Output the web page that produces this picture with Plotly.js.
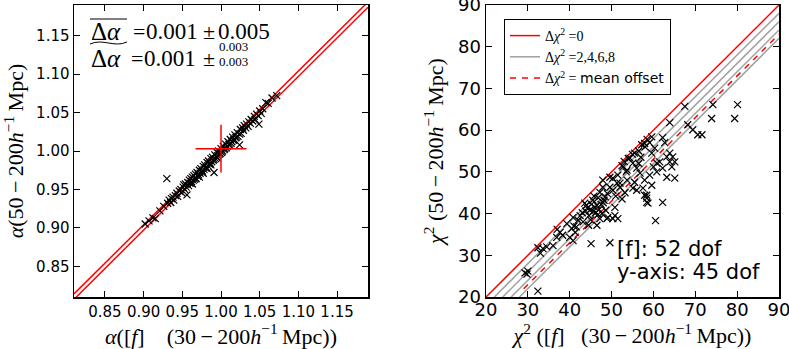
<!DOCTYPE html>
<html>
<head>
<meta charset="utf-8">
<script src="https://cdn.plot.ly/plotly-3.0.1.min.js"></script>
<style>
  html, body { margin: 0; padding: 0; background: #fff; }
  #chart { width: 789px; height: 349px; }
</style>
</head>
<body>
<div id="chart"></div>
<script>
  // Left panel: alpha from [f] fit vs alpha from the 50-200 fit
  var alphaF = [
    0.902, 0.907, 0.912, 0.915, 0.921, 0.926, 0.930, 0.931, 0.933, 0.935,
    0.936, 0.938, 0.939, 0.941, 0.943, 0.944, 0.946, 0.948, 0.949, 0.951,
    0.952, 0.953, 0.954, 0.955, 0.956, 0.957, 0.958, 0.959, 0.960, 0.961,
    0.962, 0.963, 0.963, 0.964, 0.965, 0.966, 0.967, 0.967, 0.968, 0.969,
    0.970, 0.971, 0.972, 0.972, 0.973, 0.974, 0.975, 0.976, 0.977, 0.977,
    0.978, 0.979, 0.980, 0.981, 0.982, 0.982, 0.983, 0.984, 0.985, 0.986,
    0.987, 0.987, 0.988, 0.989, 0.990, 0.991, 0.991, 0.992, 0.993, 0.994,
    0.995, 0.995, 0.996, 0.997, 0.998, 0.999, 1.000, 1.001, 1.002, 1.003,
    1.004, 1.005, 1.006, 1.007, 1.008, 1.009, 1.010, 1.011, 1.012, 1.013,
    1.014, 1.015, 1.016, 1.017, 1.018, 1.019, 1.020, 1.021, 1.022, 1.024,
    1.024, 1.025, 1.026, 1.028, 1.029, 1.030, 1.032, 1.033, 1.035, 1.036,
    1.038, 1.039, 1.041, 1.043, 1.044, 1.046, 1.048, 1.049, 1.050, 1.052,
    1.054, 1.058, 1.061, 1.066, 1.072
  ];
  var alpha50 = [
    0.905, 0.909, 0.913, 0.912, 0.922, 0.928, 0.964, 0.932, 0.936, 0.933,
    0.938, 0.940, 0.936, 0.942, 0.945, 0.941, 0.948, 0.950, 0.946, 0.953,
    0.956, 0.950, 0.957, 0.953, 0.943, 0.959, 0.955, 0.962, 0.958, 0.964,
    0.960, 0.966, 0.957, 0.962, 0.968, 0.963, 0.965, 0.970, 0.964, 0.972,
    0.967, 0.969, 0.975, 0.966, 0.971, 0.977, 0.973, 0.974, 0.980, 0.971,
    0.976, 0.982, 0.978, 0.979, 0.985, 0.977, 0.981, 0.987, 0.983, 0.984,
    0.990, 0.982, 0.986, 0.992, 0.988, 0.972, 0.989, 0.995, 0.990, 0.993,
    0.998, 0.991, 0.994, 1.000, 0.996, 0.997, 1.003, 0.998, 1.000, 1.006,
    1.002, 1.003, 1.009, 1.004, 1.006, 1.012, 1.008, 1.009, 1.015, 1.010,
    1.012, 1.018, 1.014, 1.015, 1.021, 1.017, 1.018, 1.024, 1.019, 1.008,
    1.022, 1.028, 1.023, 1.030, 1.027, 1.033, 1.030, 1.035, 1.032, 1.038,
    1.036, 1.041, 1.039, 1.045, 1.041, 1.048, 1.046, 1.035, 1.052, 1.049,
    1.055, 1.063, 1.062, 1.069, 1.072
  ];
  var alphaLineX = [0.81, 1.19];
  var alphaOffsets = [-0.003, 0.004];   // the two red reference lines
  var alphaMean = [1.000, 1.003];        // red cross: mean point
  var alphaErr = [0.033, 0.031];         // red cross: x / y half widths
  var alphaTicks = [0.85, 0.90, 0.95, 1.00, 1.05, 1.10, 1.15];

  // Right panel: chi^2 from [f] fit vs chi^2 from the 50-200 fit
  var chiF = [
    29.3, 30.0, 29.8, 32.4, 33.6, 32.4, 33.0, 34.5, 36.0, 36.9,
    37.7, 37.0, 38.3, 39.3, 40.0, 40.5, 40.8, 40.8, 41.3, 42.0,
    41.6, 43.0, 43.6, 44.2, 44.8, 45.5, 45.0, 44.5, 45.1, 46.5,
    46.5, 46.0, 46.8, 47.2, 47.2, 47.7, 47.9, 48.0, 48.5, 48.9,
    49.1, 49.6, 49.6, 50.3, 50.3, 50.3, 50.8, 51.3, 51.5, 51.5,
    51.0, 52.0, 52.0, 52.7, 52.5, 53.7, 53.7, 54.4, 53.2, 55.1,
    55.1, 55.5, 56.0, 56.0, 56.8, 56.5, 57.0, 57.9, 57.5, 57.9,
    57.9, 58.4, 58.4, 58.4, 58.7, 58.0, 59.1, 59.1, 59.6, 59.6,
    59.6, 60.3, 60.0, 60.5, 60.8, 60.8, 61.5, 62.2, 62.2, 62.2,
    62.7, 63.2, 63.2, 63.9, 63.9, 63.9, 64.4, 64.6, 65.1, 65.1,
    67.5, 68.2, 69.4, 70.6, 71.6, 74.2, 73.9, 79.4, 80.1,
    44.0, 45.2, 46.2, 47.0, 45.8, 44.6, 43.2, 42.5, 48.2, 49.0,
    46.8, 47.5, 52.5, 53.0, 54.0, 55.0, 55.5, 56.5, 57.2, 58.5,
    53.5, 47.9, 49.6, 50.8, 45.6, 48.6, 41.0, 43.8
  ];
  var chi50 = [
    25.8, 26.2, 25.5, 21.4, 31.6, 31.8, 30.5, 32.0, 32.3, 34.3,
    35.5, 36.2, 34.8, 37.6, 34.3, 36.4, 33.5, 39.1, 35.5, 38.4,
    36.8, 40.2, 42.5, 41.3, 40.8, 43.2, 38.5, 37.2, 32.8, 42.0,
    37.2, 41.5, 43.8, 38.8, 45.1, 40.0, 46.3, 42.6, 44.0, 38.8,
    39.1, 46.3, 33.0, 38.8, 48.5, 45.6, 39.5, 47.3, 38.8, 49.2,
    44.2, 47.3, 46.3, 51.2, 43.5, 50.4, 48.0, 53.3, 45.0, 52.1,
    46.1, 47.5, 50.9, 45.6, 49.7, 52.0, 53.5, 48.0, 46.1, 44.4,
    56.8, 44.4, 43.7, 42.7, 42.5, 56.0, 57.0, 49.2, 54.5, 46.8,
    58.4, 55.7, 51.2, 38.3, 52.1, 50.0, 52.4, 58.2, 50.9, 42.7,
    57.0, 48.7, 53.6, 61.8, 54.5, 52.4, 51.2, 53.6, 52.4, 48.5,
    65.7, 61.3, 60.1, 58.9, 58.9, 66.1, 62.8, 62.8, 66.1,
    42.0, 42.2, 40.2, 41.0, 44.2, 39.5, 38.0, 39.5, 43.2, 44.8,
    39.8, 42.2, 51.5, 52.5, 53.2, 54.2, 54.5, 55.0, 56.5, 57.8,
    50.0, 48.0, 48.7, 41.5, 40.5, 40.8, 37.0, 40.6
  ];
  var chiLineX = [20, 90];
  var chiGrayOffsets = [2, 4, 6, 8];
  var chiMeanOffset = 7;
  var chiTicks = [20, 30, 40, 50, 60, 70, 80, 90];

  var RED = "#ff0000";
  var GRAY = "#a0a0a0";
  var TICK_FONT = "DejaVu Sans, sans-serif";
  var SERIF = "Liberation Serif, DejaVu Serif, serif";

  function shifted(xs, off) {
    return xs.map(function (x) { return x + off; });
  }

  // Gray Δχ²=2,4,6,8 lines as one trace, null-separated, clipped at y=20
  var grayX = [], grayY = [];
  chiGrayOffsets.forEach(function (o) {
    grayX.push(chiLineX[0] + o, chiLineX[1], null);
    grayY.push(chiLineX[0], chiLineX[1] - o, null);
  });

  var XMARK = { symbol: "x-thin", size: 7, color: "#000", line: { color: "#000", width: 1.2 } };

  var traces = [
    // right panel lines first so the legend order matches
    {
      type: "scatter", mode: "lines", xaxis: "x2", yaxis: "y2",
      x: chiLineX, y: chiLineX,
      line: { color: RED, width: 1.5 },
      name: "Δ<i>χ</i><sup>2</sup> =0"
    },
    {
      type: "scatter", mode: "lines", xaxis: "x2", yaxis: "y2",
      x: grayX, y: grayY, connectgaps: false,
      line: { color: GRAY, width: 1.5 },
      name: "Δ<i>χ</i><sup>2</sup> =2,4,6,8"
    },
    {
      type: "scatter", mode: "lines", xaxis: "x2", yaxis: "y2",
      x: [chiLineX[0] + chiMeanOffset + 2, chiLineX[1]],
      y: [chiLineX[0] + 2, chiLineX[1] - chiMeanOffset],
      line: { color: RED, width: 1.5, dash: "6px,6px" },
      name: "Δ<i>χ</i><sup>2</sup> = <span style='font-family:DejaVu Sans'>mean offset</span>"
    },
    {
      type: "scatter", mode: "markers", xaxis: "x2", yaxis: "y2",
      x: chiF, y: chi50, showlegend: false, marker: XMARK
    },
    // left panel
    {
      type: "scatter", mode: "lines", x: alphaLineX, y: shifted(alphaLineX, alphaOffsets[0]),
      line: { color: RED, width: 1.5 }, showlegend: false
    },
    {
      type: "scatter", mode: "lines", x: alphaLineX, y: shifted(alphaLineX, alphaOffsets[1]),
      line: { color: RED, width: 1.5 }, showlegend: false
    },
    {
      type: "scatter", mode: "markers", x: alphaF, y: alpha50, showlegend: false, marker: XMARK
    },
    {
      type: "scatter", mode: "markers", x: [alphaMean[0]], y: [alphaMean[1]], showlegend: false,
      marker: { size: 1, color: RED },
      error_x: { type: "data", array: [alphaErr[0]], color: RED, thickness: 1.5, width: 0 },
      error_y: { type: "data", array: [alphaErr[1]], color: RED, thickness: 1.5, width: 0 }
    }
  ];

  var TITLE_FONT = { family: SERIF, size: 22, color: "#000" };

  function axis(extra) {
    var a = {
      showline: true, linecolor: "#000", linewidth: 1.5, mirror: "ticks",
      ticks: "inside", ticklen: 6, tickwidth: 1, tickcolor: "#000",
      showgrid: false, zeroline: false, ticklabeloverflow: "allow",
      tickfont: { family: TICK_FONT, size: 15, color: "#000" }
    };
    for (var k in extra) a[k] = extra[k];
    return a;
  }

  var PW = 789, PH = 292, TOP = 5;
  function px(x) { return x / PW; }
  function py(y) { return (TOP + PH - y) / PH; }

  // text label placed by pixel position (left edge, vertical centre)
  function label(text, x, y, size, family) {
    return {
      xref: "paper", yref: "paper", x: px(x), y: py(y), xanchor: "left", yanchor: "middle",
      showarrow: false, text: text, borderpad: 0,
      font: { family: family || SERIF, size: size, color: "#000" }
    };
  }

  var THIN = "\u2009";

  var layout = {
    width: 789, height: 349,
    margin: { l: 0, r: 0, t: TOP, b: 52 },
    paper_bgcolor: "#fff", plot_bgcolor: "#fff",
    showlegend: true,
    legend: {
      x: px(504), y: py(19), xanchor: "left", yanchor: "top",
      bgcolor: "#fff", bordercolor: "#000", borderwidth: 1,
      font: { family: SERIF, size: 14, color: "#000" },
      itemwidth: 30, tracegroupgap: 0
    },
    xaxis: axis({
      domain: [px(74), px(368)], range: [0.81, 1.19], anchor: "y",
      tickvals: alphaTicks, tickformat: ".2f",
      title: { text: "<i>α</i>([<i>f</i>]    (30" + THIN + "−" + THIN + "200<i>h</i><sup>−1</sup>" + THIN + "Mpc))",
               standoff: 6, font: TITLE_FONT }
    }),
    yaxis: axis({
      domain: [0, 1], range: [0.81, 1.19], anchor: "x",
      tickvals: alphaTicks, tickformat: ".2f",
      title: { text: "<i>α</i>(50" + THIN + "−" + THIN + "200<i>h</i><sup>−1</sup>" + THIN + "Mpc)",
               standoff: 6, font: TITLE_FONT }
    }),
    xaxis2: axis({
      domain: [px(486), px(779)], range: [20, 90], anchor: "y2",
      tickvals: chiTicks, tickfont: { family: TICK_FONT, size: 18, color: "#000" },
      ticklabelstandoff: -4,
      title: { text: "<i>χ</i><sup>2</sup> ([<i>f</i>]   (30" + THIN + "−" + THIN + "200<i>h</i><sup>−1</sup>" + THIN + "Mpc))",
               standoff: 6, font: TITLE_FONT }
    }),
    yaxis2: axis({
      domain: [0, 1], range: [20, 90], anchor: "x2",
      tickvals: chiTicks, tickfont: { family: TICK_FONT, size: 18, color: "#000" },
      title: { text: "<i>χ</i><sup>2</sup> (50" + THIN + "−" + THIN + "200<i>h</i><sup>−1</sup>" + THIN + "Mpc)",
               standoff: 8, font: TITLE_FONT }
    }),
    annotations: [
      label("Δ<i>α</i>", 90, 31, 25),
      label("=", 132, 31, 22),
      label("0.001", 145, 31, 23),
      label("±", 202, 31, 22),
      label("0.005", 217, 31, 23),
      label("Δ<i>α</i>", 90, 59, 25),
      label("=", 130, 59, 22),
      label("0.001", 143, 59, 23),
      label("±", 202, 59, 22),
      label("0.003", 218, 46, 13),
      label("0.003", 218, 61, 13),
      { xref: "x2", yref: "y2", x: 50.8, y: 31.4, xanchor: "left", yanchor: "middle",
        showarrow: false, text: "[f]: 52 dof",
        font: { family: TICK_FONT, size: 21, color: "#000" } },
      { xref: "x2", yref: "y2", x: 50.8, y: 25.9, xanchor: "left", yanchor: "middle",
        showarrow: false, text: "y-axis: 45 dof",
        font: { family: TICK_FONT, size: 21, color: "#000" } }
    ],
    shapes: [
      // overline and wide tilde over the two Δα labels
      { type: "line", xref: "paper", yref: "paper", x0: px(90), x1: px(127), y0: py(19), y1: py(19),
        line: { color: "#000", width: 1 } },
      { type: "path", xref: "paper", yref: "paper",
        path: "M " + px(90) + "," + py(44) + " C " + px(103) + "," + py(38) + " " +
              px(114) + "," + py(48) + " " + px(127) + "," + py(42),
        line: { color: "#000", width: 1 } }
    ]
  };

  Plotly.newPlot("chart", traces, layout, { displayModeBar: false, staticPlot: true });
</script>
</body>
</html>
